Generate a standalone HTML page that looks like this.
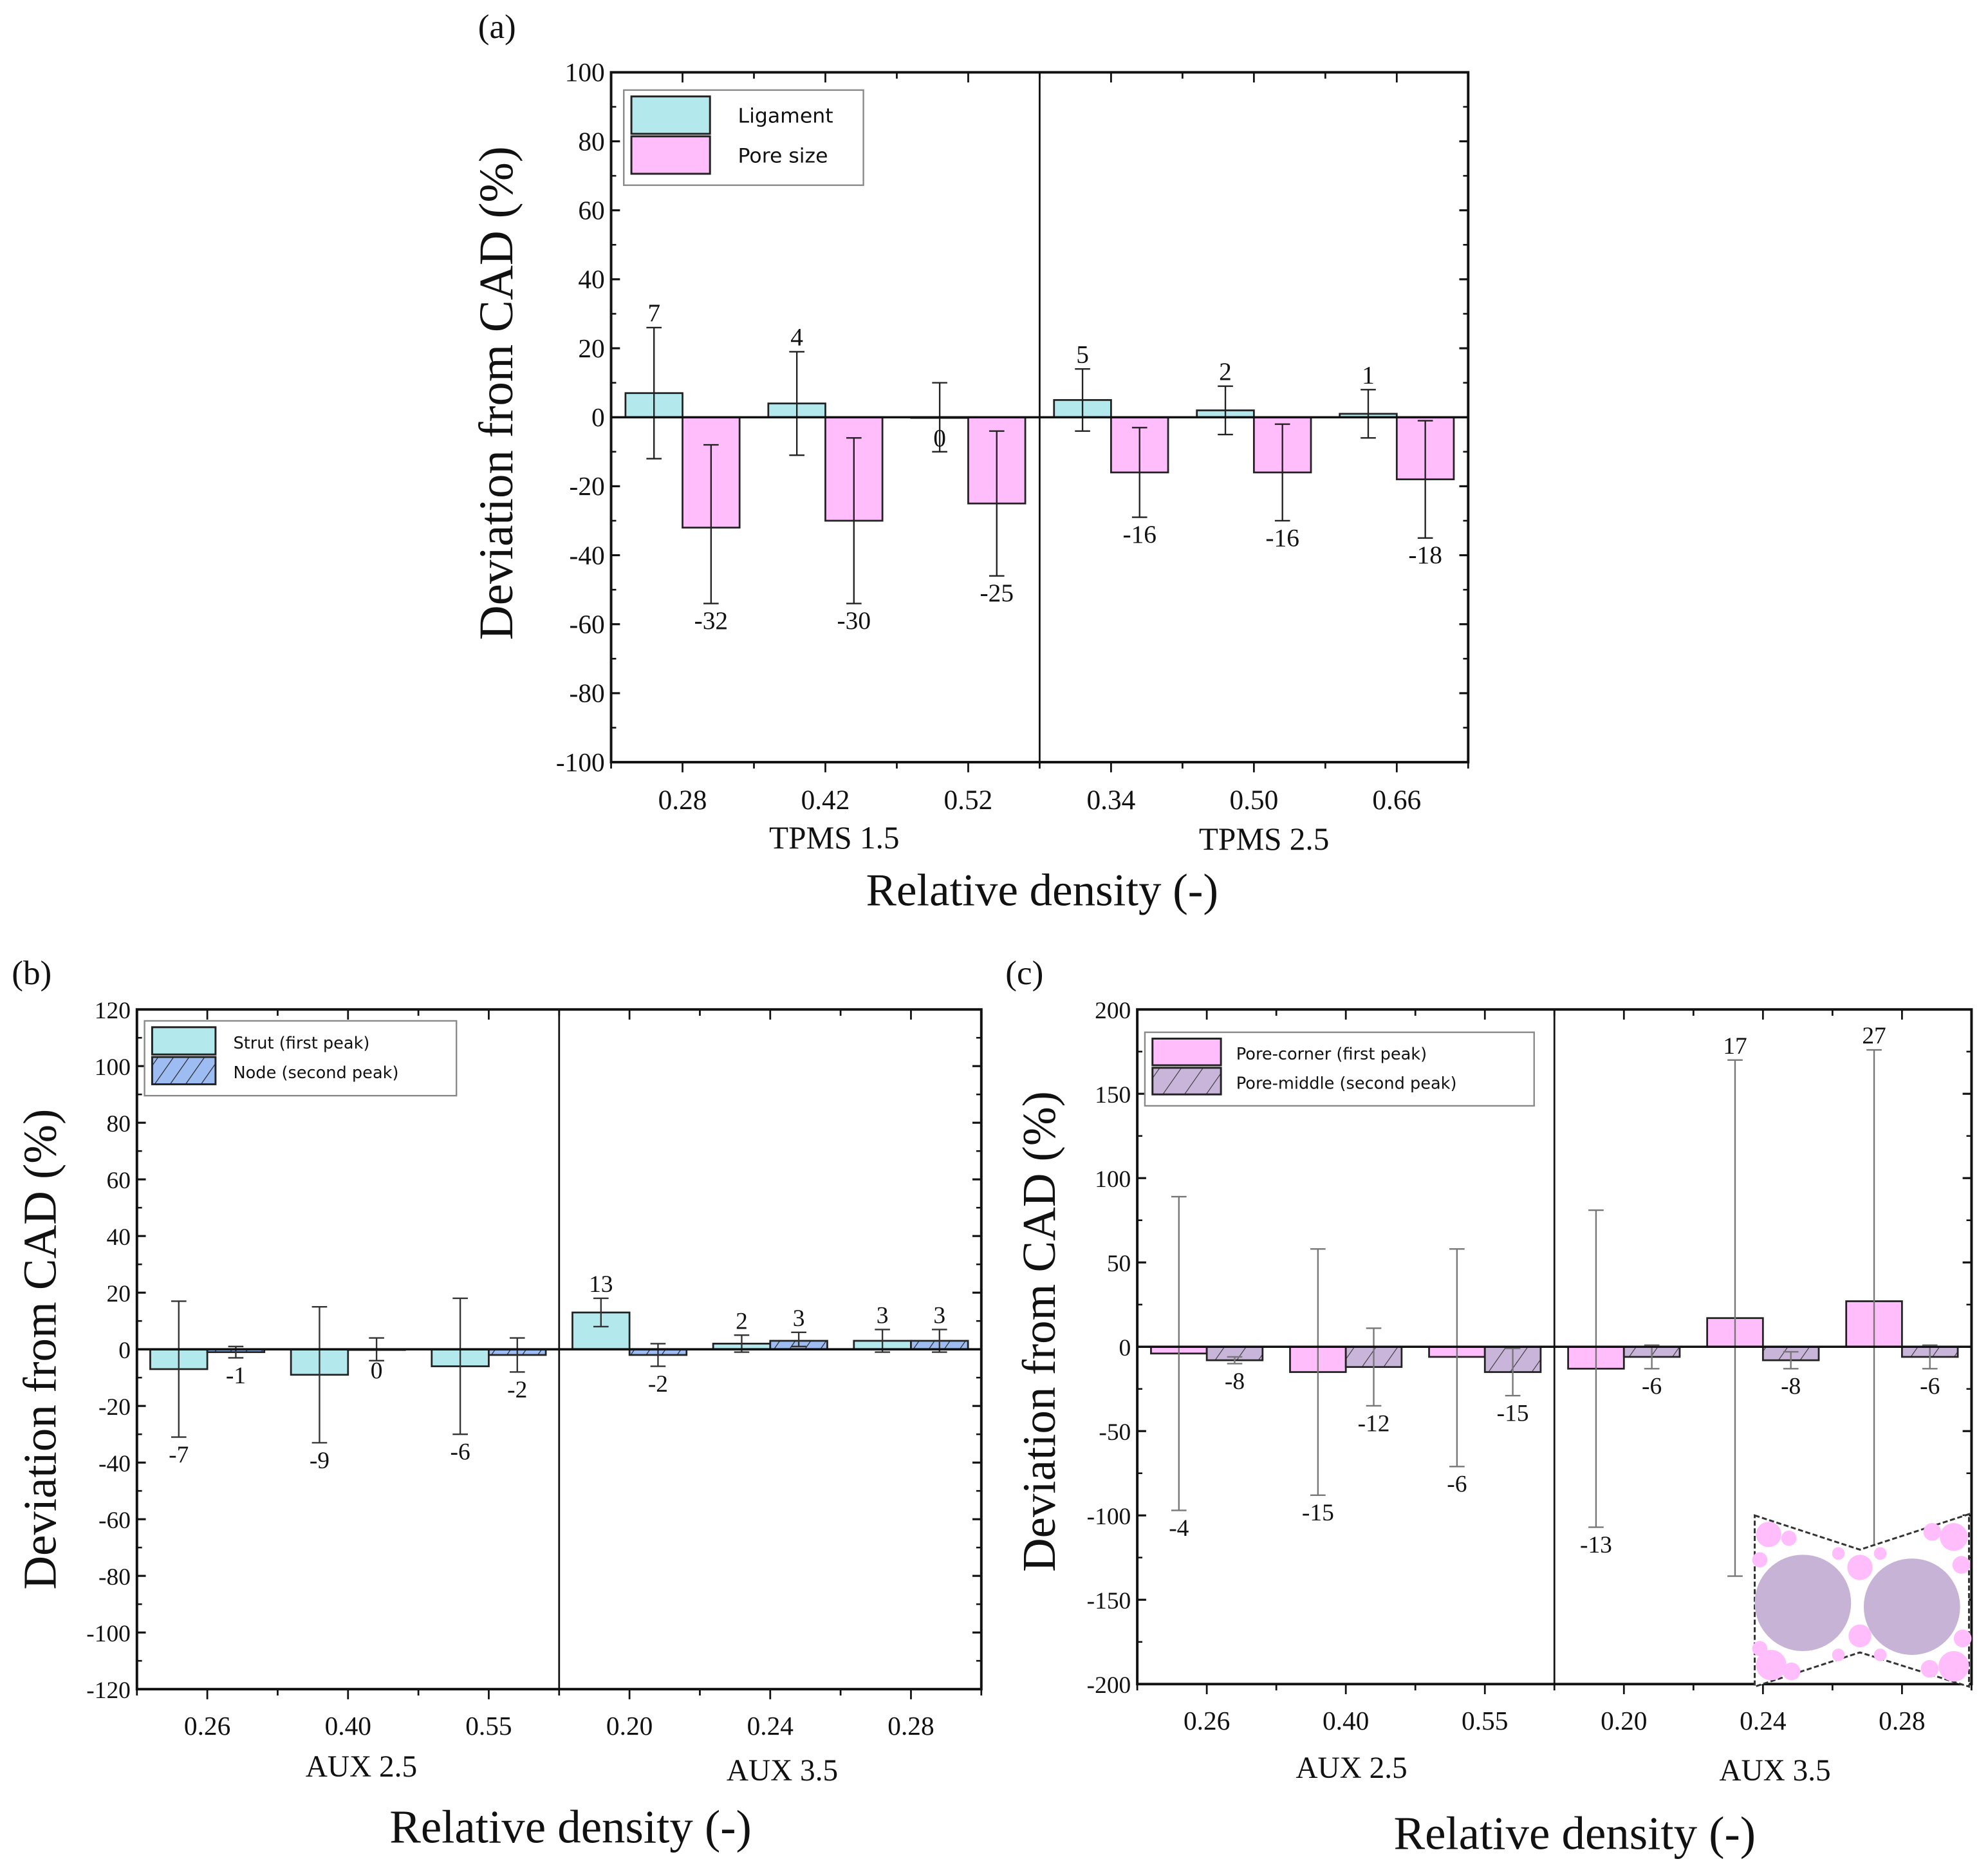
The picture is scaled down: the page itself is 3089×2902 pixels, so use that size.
<!DOCTYPE html>
<html><head><meta charset="utf-8"><style>
html,body{margin:0;padding:0;background:#fff;}
svg{display:block;}
text{font-family:"Liberation Serif",serif;fill:#111;}
.leg{font-family:"DejaVu Sans","Liberation Sans",sans-serif;}
</style></head><body>
<svg id="fig" width="3089" height="2902" viewBox="0 0 1568 1473" xmlns="http://www.w3.org/2000/svg">
<defs>
<pattern id="hatchBlue" patternUnits="userSpaceOnUse" width="10" height="10" patternTransform="rotate(35)"><rect width="10" height="10" fill="#9dbcf2"/><line x1="0" y1="0" x2="0" y2="10" stroke="#222" stroke-width="1.2"/></pattern>
<pattern id="hatchPurple" patternUnits="userSpaceOnUse" width="14" height="14" patternTransform="rotate(35)"><rect width="14" height="14" fill="#c9b5d9"/><line x1="0" y1="0" x2="0" y2="14" stroke="#333" stroke-width="1.1"/></pattern>
</defs>
<g id="root"></g>
</svg>
<script>
// ----- Panel (a) data -----
const aCategories = ["0.28","0.42","0.52","0.34","0.50","0.66"];
const aLigament = [7,4,0,5,2,1];
const aLigLow = [-12,-11,-10,-4,-5,-6];
const aLigHigh = [26,19,10,14,9,8];
const aPore = [-32,-30,-25,-16,-16,-18];
const aPoreLow = [-54,-54,-46,-29,-30,-35];
const aPoreHigh = [-8,-6,-4,-3,-2,-1];
const aTicks = [-100,-80,-60,-40,-20,0,20,40,60,80,100];
// ----- Panel (b) data -----
const bCategories = ["0.26","0.40","0.55","0.20","0.24","0.28"];
const bStrut = [-7,-9,-6,13,2,3];
const bStrutLow = [-31,-33,-30,8,-1,-1];
const bStrutHigh = [17,15,18,18,5,7];
const bNode = [-1,0,-2,-2,3,3];
const bNodeLow = [-3,-4,-8,-6,1,-1];
const bNodeHigh = [1,4,4,2,6,7];
const bTicks = [-120,-100,-80,-60,-40,-20,0,20,40,60,80,100,120];
// ----- Panel (c) data -----
const cCategories = ["0.26","0.40","0.55","0.20","0.24","0.28"];
const cCorner = [-4,-15,-6,-13,17,27];
const cCornerLow = [-97,-88,-71,-107,-136,-123];
const cCornerHigh = [89,58,58,81,170,176];
const cMiddle = [-8,-12,-15,-6,-8,-6];
const cMiddleLow = [-10,-35,-29,-13,-13,-13];
const cMiddleHigh = [-6,11,-1,1,-3,1];
const cTicks = [-200,-150,-100,-50,0,50,100,150,200];

const NS="http://www.w3.org/2000/svg";
const root=document.getElementById('root');
function mk(tag,attrs,parent,txt){const e=document.createElementNS(NS,tag);for(const k in attrs)e.setAttribute(k,attrs[k]);if(txt!==undefined)e.textContent=txt;(parent||root).appendChild(e);return e;}

function panel(cfg){
  const g=mk('g',{});
  
  
  const {x0,x1,y0,y1,vmin,vmax}=cfg;
  const y=v=>y1-(v-vmin)/(vmax-vmin)*(y1-y0);
  const n=cfg.cats.length;
  const step=(x1-x0)/n;
  const cx=i=>x0+step*(i+0.5)+cfg.shift;
  const tg=mk('g',{},g);
  
  
  cfg.ticks.forEach((t,i)=>{
    const yy=y(t);
    mk('line',{x1:x0,x2:x0+7,y1:yy,y2:yy,stroke:'#111','stroke-width':1.6},tg);
    mk('line',{x1:x1,x2:x1-7,y1:yy,y2:yy,stroke:'#111','stroke-width':1.6},tg);
    const lb=mk('text',{x:x0-5,y:yy+7,'text-anchor':'end','font-size':cfg.tickFs},tg,String(t));
    
    
    if(i<cfg.ticks.length-1){const ym=y((t+cfg.ticks[i+1])/2);
      mk('line',{x1:x0,x2:x0+4,y1:ym,y2:ym,stroke:'#111','stroke-width':1.3},tg);
      mk('line',{x1:x1,x2:x1-4,y1:ym,y2:ym,stroke:'#111','stroke-width':1.3},tg);}
  });
  for(let i=0;i<=n*2;i++){
    const xx=x0+step*i/2;
    const len=i%2?8:5;
    mk('line',{x1:xx,x2:xx,y1:y1,y2:y1+len,stroke:'#111','stroke-width':1.4},g);
    mk('line',{x1:xx,x2:xx,y1:y0,y2:y0+len,stroke:'#111','stroke-width':1.4},g);
  }
  const bw=cfg.bw;
  const series=[[cfg.s1,cfg.l1,cfg.h1,cfg.f1,-1,cfg.n1],[cfg.s2,cfg.l2,cfg.h2,cfg.f2,0,cfg.n2]];
  series.forEach(([vals,lo,hi,fill,off,nm])=>{
    vals.forEach((v,i)=>{
      const bx=cx(i)+off*bw;
      const r=mk('rect',{x:bx,y:Math.min(y(v),y(0)),width:bw,height:Math.max(Math.abs(y(v)-y(0)),0.5),fill:fill,stroke:'#222','stroke-width':1.4},g);
      
      
      const ex=bx+bw/2;
      const e=mk('g',{stroke:cfg.errCol,'stroke-width':1.2},g);
      
      
      mk('line',{x1:ex,x2:ex,y1:y(lo[i]),y2:y(hi[i])},e);
      mk('line',{x1:ex-6,x2:ex+6,y1:y(lo[i]),y2:y(lo[i])},e);
      mk('line',{x1:ex-6,x2:ex+6,y1:y(hi[i]),y2:y(hi[i])},e);
      const ly=v>0?y(hi[i])-5:(v===0?y(v)+23:y(lo[i])+20);
      const t=mk('text',{x:ex,y:ly,'text-anchor':'middle','font-size':cfg.valFs},g,String(v));
      
      
    });
  });
  mk('line',{x1:x0,x2:x1,y1:y(0),y2:y(0),stroke:'#111','stroke-width':1.8},g);
  const dv=x0+(x1-x0)/2;
  mk('line',{x1:dv,x2:dv,y1:y0,y2:y1,stroke:'#111','stroke-width':1.4},g);
  mk('rect',{x:x0,y:y0,width:x1-x0,height:y1-y0,fill:'none',stroke:'#111','stroke-width':2},g);
  cfg.cats.forEach((c,i)=>{const t=mk('text',{x:cx(i),y:y1+cfg.catDy,'text-anchor':'middle','font-size':cfg.catFs},g,c);
    
    });
  cfg.groups.forEach(gr=>{const t=mk('text',{x:gr[1],y:gr[2],'text-anchor':'middle','font-size':cfg.grpFs},g,gr[0]);
    
    });
  const xt=mk('text',{x:cfg.xt[0],y:cfg.xt[1],'text-anchor':'middle','font-size':cfg.xtFs},g,'Relative density (-)');
  
  
  const yt=mk('text',{x:0,y:0,'text-anchor':'middle','font-size':cfg.titleFs,transform:`translate(${cfg.yt[0]},${cfg.yt[1]}) rotate(-90)`},g,'Deviation from CAD (%)');
  
  
  const pl=mk('text',{x:cfg.pl[0],y:cfg.pl[1],'text-anchor':'middle','font-size':27},g,cfg.plabel);
  
  
  const L=cfg.leg;
  const lg=mk('g',{},g);
  
  
  mk('rect',{x:L.x,y:L.y,width:L.w,height:L.h,fill:'#fff',stroke:'#888','stroke-width':1.2},lg);
  const sh=(L.h-12)/2;
  mk('rect',{x:L.x+6,y:L.y+5,width:L.sw,height:sh-2,fill:cfg.f1,stroke:'#222','stroke-width':1.5},lg);
  mk('rect',{x:L.x+6,y:L.y+5+sh,width:L.sw,height:sh-2,fill:cfg.f2,stroke:'#222','stroke-width':1.5},lg);
  mk('text',{x:L.x+L.tx,y:L.y+5+sh/2+5,'font-size':L.fs,class:'leg'},lg,cfg.n1Label);
  mk('text',{x:L.x+L.tx,y:L.y+5+sh*1.5+5,'font-size':L.fs,class:'leg'},lg,cfg.n2Label);
  return g;
}

panel({name:'panel-a',x0:482,x1:1158,y0:57,y1:601,vmin:-100,vmax:100,shift:0,cats:aCategories,ticks:aTicks,
  s1:aLigament,l1:aLigLow,h1:aLigHigh,f1:'#b3e8ec',n1:'ligament',
  s2:aPore,l2:aPoreLow,h2:aPoreHigh,f2:'#ffbdfb',n2:'pore-size',
  bw:45,errCol:'#222',tickFs:21,valFs:20,catFs:22,catDy:37,grpFs:25,titleFs:38,xtFs:36,
  groups:[['TPMS 1.5',658,669],['TPMS 2.5',997,670]],xt:[822,714],yt:[404,310],pl:[392,30],plabel:'(a)',
  leg:{x:492,y:71,w:189,h:75,sw:62,tx:90,fs:16},n1Label:'Ligament',n2Label:'Pore size'});

panel({name:'panel-b',x0:108,x1:774,y0:796,y1:1332,vmin:-120,vmax:120,shift:0,cats:bCategories,ticks:bTicks,
  s1:bStrut,l1:bStrutLow,h1:bStrutHigh,f1:'#b3e8ec',n1:'strut',
  s2:bNode,l2:bNodeLow,h2:bNodeHigh,f2:'url(#hatchBlue)',n2:'node',
  bw:45,errCol:'#333',tickFs:19,valFs:19,catFs:21,catDy:36,grpFs:24,titleFs:37,xtFs:37,
  groups:[['AUX 2.5',285,1401],['AUX 3.5',617,1404]],xt:[450,1453],yt:[44,1064],pl:[25,776],plabel:'(b)',
  leg:{x:114,y:805,w:246,h:59,sw:50,tx:70,fs:13},n1Label:'Strut (first peak)',n2Label:'Node (second peak)'});

panel({name:'panel-c',x0:897,x1:1555,y0:796,y1:1328,vmin:-200,vmax:200,shift:0,cats:cCategories,ticks:cTicks,
  s1:cCorner,l1:cCornerLow,h1:cCornerHigh,f1:'#ffbdfb',n1:'pore-corner',
  s2:cMiddle,l2:cMiddleLow,h2:cMiddleHigh,f2:'url(#hatchPurple)',n2:'pore-middle',
  bw:44,errCol:'#777',tickFs:19,valFs:19,catFs:21,catDy:36,grpFs:24,titleFs:37,xtFs:37,
  groups:[['AUX 2.5',1066,1402],['AUX 3.5',1400,1404]],xt:[1242,1458],yt:[832,1050],pl:[808,776],plabel:'(c)',
  leg:{x:903,y:814,w:307,h:58,sw:54,tx:72,fs:13},n1Label:'Pore-corner (first peak)',n2Label:'Pore-middle (second peak)'});

const ins=mk('g',{});


mk('polygon',{points:'1384,1195 1467,1222 1553,1194 1553,1330 1467,1303 1384,1330',fill:'#fff',stroke:'#333','stroke-width':1.5,'stroke-dasharray':'4,2'},ins);
[[1395,1210,10],[1411,1213,6],[1388,1230,6],[1397,1313,12],[1413,1318,7],[1388,1300,6],[1467,1236,10],[1467,1290,9],[1541,1212,11],[1524,1208,7],[1547,1234,7],[1541,1314,12],[1522,1316,7],[1548,1292,7],[1450,1225,5],[1483,1225,5],[1450,1305,5],[1483,1305,5]].forEach(c=>mk('circle',{cx:c[0],cy:c[1],r:c[2],fill:'#ffbdfb'},ins));
mk('circle',{cx:1422,cy:1264,r:38,fill:'#c6b3d6'},ins);
mk('circle',{cx:1508,cy:1267,r:38,fill:'#c6b3d6'},ins);
</script>
</body></html>
